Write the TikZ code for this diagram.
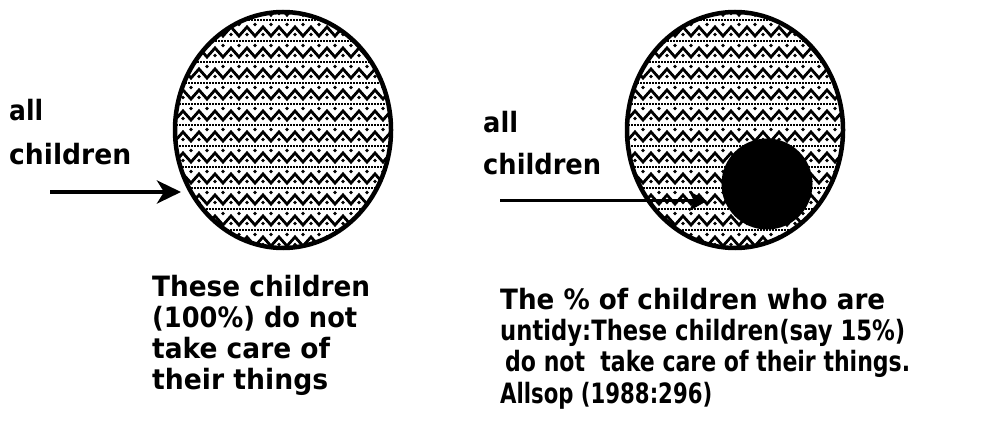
\documentclass[tikz,border=0pt]{standalone}
\usepackage{fontspec}
\usepackage{graphicx}
\setmainfont{DejaVu Sans}
\usetikzlibrary{arrows.meta}
\newcommand\fw[2]{\resizebox{#1pt}{\height}{#2}}
\newcommand\zzfill[4]{%
  \begin{scope}
    \clip (#1,#2) ellipse [x radius=#3, y radius=#4];
    \foreach \r in {0,...,12}{
      \pgfmathsetmacro\yy{#2-#4+\r*21-6}
      \pgfmathsetmacro\xo{#1-#3-8}
      \draw[line width=2.8pt, line join=miter] (\xo,\yy)
        \foreach \k in {0,...,14}{ -- ++(8,9) -- ++(8,-9)};
      \draw[line width=2.2pt, dash pattern=on 1.8pt off 1.2pt] (\xo,\yy+14) -- (#1+#3+8,\yy+14);
      \foreach \k in {0,...,14}{
        \fill (\xo+16*\k,\yy+7.5) circle (1.9);
        \fill (\xo+8+16*\k,\yy+18.5) circle (1.9);
      }
    }
  \end{scope}
  \draw[line width=4.5pt] (#1,#2) ellipse [x radius=#3, y radius=#4];
}
\begin{document}
\begin{tikzpicture}[x=1pt,y=-1pt,
  lbl/.style={anchor=base west, inner sep=0pt, font=\fontsize{28}{32}\selectfont\bfseries},
  bigarrow/.style={line width=4.5pt, -{Stealth[length=24pt, width=23pt, inset=7pt]}},
  thinarrow/.style={line width=3pt, -{Stealth[length=18pt, width=20pt, inset=5pt]}}]
\useasboundingbox (0,0) rectangle (992,443);

% circles
\zzfill{283}{130}{108}{118}
\zzfill{735}{130}{108}{118}
\fill (767,184) circle (45.5);

% arrows
\coordinate (a1s) at (50,192);
\coordinate (a1e) at (181,192);
\coordinate (a2s) at (500,201);
\coordinate (a2e) at (707,201);
\draw[bigarrow] (a1s) -- (a1e);
\draw[thinarrow] (a2s) -- (a2e);

% labels
\node[lbl] (l1a) at (9,121) {\fw{34}{all}};
\node[lbl] (l1b) at (9,165) {\fw{122}{children}};
\node[lbl] (l2a) at (483,133) {\fw{35}{all}};
\node[lbl] (l2b) at (483,175) {\fw{118}{children}};

\node[lbl] (t1a) at (152,296) {\fw{218}{These children}};
\node[lbl] (t1b) at (152,327) {\fw{205}{(100\%) do not}};
\node[lbl] (t1c) at (152,358) {\fw{178}{take care of}};
\node[lbl] (t1d) at (152,389) {\fw{176}{their things}};

\node[lbl] (t2a) at (500,309) {\fw{385}{The \% of children who are}};
\node[lbl] (t2b) at (500,340) {\fw{405}{untidy:These children(say 15\%)}};
\node[lbl] (t2c) at (505,371) {\fw{405}{do not\ \ take care of their things.}};
\node[lbl] (t2d) at (500,403) {\fw{212}{Allsop (1988:296)}};
\end{tikzpicture}
\end{document}
